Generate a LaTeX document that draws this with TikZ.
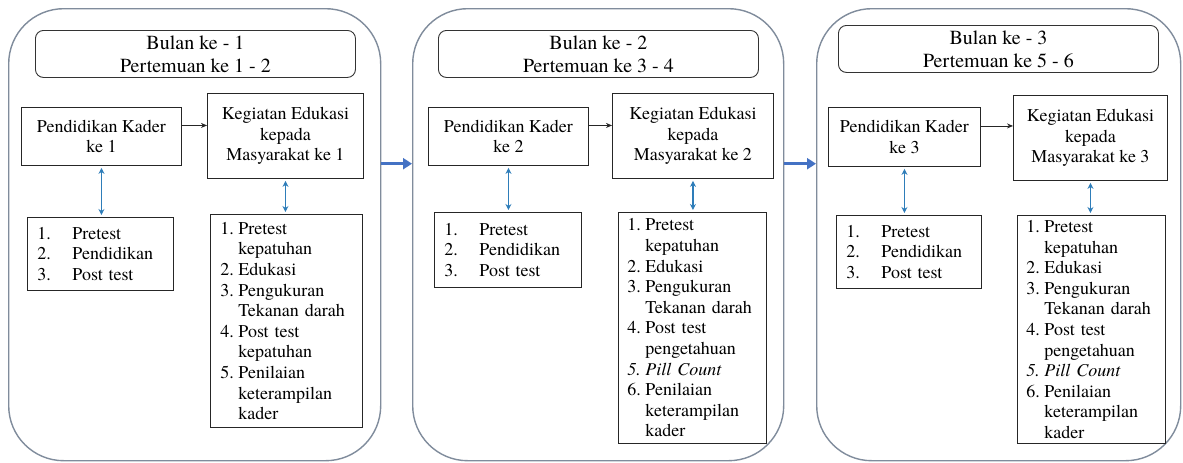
\documentclass[tikz,border=0pt]{standalone}
\usepackage{fontspec}
\setmainfont{texgyretermes}[Extension=.otf, UprightFont=*-regular, ItalicFont=*-italic, BoldFont=*-bold, BoldItalicFont=*-bolditalic]
\usetikzlibrary{arrows.meta}
\definecolor{panelgray}{RGB}{128,140,156}
\definecolor{bigblue}{RGB}{68,114,196}
\definecolor{smallblue}{RGB}{46,125,185}
\newcommand{\myitem}[2]{\makebox[18pt][l]{#1}#2}
\newcommand{\mycont}[1]{\hspace*{18pt}#1}
\newcommand{\myone}[2]{\makebox[35pt][l]{#1}#2}
\begin{document}
\begin{tikzpicture}[x=1pt,y=-1pt,
  panel/.style={draw=panelgray, line width=1.4pt, rounded corners=55pt, anchor=north west, inner sep=0pt},
  hdr/.style={draw=black!80, line width=0.9pt, rounded corners=8pt, anchor=north west, inner sep=0pt, align=center, font=\fontsize{20}{23}\selectfont},
  stepbox/.style={draw=black!85, line width=0.9pt, anchor=north west, inner sep=0pt, align=center, font=\fontsize{18}{20.6}\selectfont},
  lst/.style={stepbox, align=left, inner xsep=10pt, inner ysep=0pt},
  smallarrow/.style={draw=black!85, line width=0.8pt, -{Stealth[length=6pt,width=5pt]}},
  duo/.style={draw=smallblue, line width=1.3pt, {Stealth[length=6pt,width=6pt]}-{Stealth[length=6pt,width=6pt]}, shorten <=2pt, shorten >=2pt},
  bigarrow/.style={draw=bigblue, line width=3pt, -{Triangle[length=9pt,width=11pt]}}
]
\fill[white] (0,0) rectangle (1183,463);
\useasboundingbox (0,0) rectangle (1183,463);

% panels
\node[panel, minimum width=372pt, minimum height=452pt] (p1) at (8,8) {};
\node[panel, minimum width=371pt, minimum height=452pt] (p2) at (412,8) {};
\node[panel, minimum width=364pt, minimum height=452pt] (p3) at (816,8) {};

% headers
\node[hdr, minimum width=320pt, minimum height=47pt] (h1) at (35,30) {Bulan ke - 1\\Pertemuan ke 1 - 2};
\node[hdr, minimum width=320pt, minimum height=47pt] (h2) at (438,30) {Bulan ke - 2\\Pertemuan ke 3 - 4};
\node[hdr, minimum width=320pt, minimum height=47pt] (h3) at (838,25) {Bulan ke - 3\\Pertemuan ke 5 - 6};

% pendidikan kader
\node[stepbox, minimum width=160pt, minimum height=58pt] (pk1) at (21,107) {Pendidikan Kader\\ke 1};
\node[stepbox, minimum width=160pt, minimum height=58pt] (pk2) at (428,107) {Pendidikan Kader\\ke 2};
\node[stepbox, minimum width=152pt, minimum height=59pt] (pk3) at (828,107) {Pendidikan Kader\\ke 3};

% kegiatan edukasi
\node[stepbox, minimum width=156pt, minimum height=85pt] (kg1) at (207,93) {Kegiatan Edukasi\\kepada\\Masyarakat ke 1};
\node[stepbox, minimum width=161pt, minimum height=85pt] (kg2) at (612,93) {Kegiatan Edukasi\\kepada\\Masyarakat ke 2};
\node[stepbox, minimum width=154pt, minimum height=85pt] (kg3) at (1013,95) {Kegiatan Edukasi\\kepada\\Masyarakat ke 3};

% list 1
\node[lst, text width=126pt, minimum height=73pt] (la1) at (27,217) {\myone{1.}{Pretest}\\\myone{2.}{Pendidikan}\\\myone{3.}{Post test}};
\node[lst, text width=127pt, minimum height=75pt] (la2) at (434,212) {\myone{1.}{Pretest}\\\myone{2.}{Pendidikan}\\\myone{3.}{Post test}};
\node[lst, text width=125pt, minimum height=73pt] (la3) at (836,215) {\myone{1.}{Pretest}\\\myone{2.}{Pendidikan}\\\myone{3.}{Post test}};

% list 2
\node[lst, text width=132pt, minimum height=213pt] (lb1) at (210,214) {\myitem{1.}{Pretest}\\\mycont{kepatuhan}\\\myitem{2.}{Edukasi}\\\myitem{3.}{Pengukuran}\\\mycont{Tekanan darah}\\\myitem{4.}{Post test}\\\mycont{kepatuhan}\\\myitem{5.}{Penilaian}\\\mycont{keterampilan}\\\mycont{kader}};
\node[lst, text width=130pt, minimum height=231pt, inner xsep=9pt] (lb2) at (618,212) {\myitem{1.}{Pretest}\\\mycont{kepatuhan}\\\myitem{2.}{Edukasi}\\\myitem{3.}{Pengukuran}\\\mycont{Tekanan darah}\\\myitem{4.}{Post test}\\\mycont{pengetahuan}\\\myitem{\textit{5.}}{\textit{Pill Count}}\\\myitem{6.}{Penilaian}\\\mycont{keterampilan}\\\mycont{kader}};
\node[lst, text width=130pt, minimum height=228pt, inner xsep=9pt] (lb3) at (1017,215) {\myitem{1.}{Pretest}\\\mycont{kepatuhan}\\\myitem{2.}{Edukasi}\\\myitem{3.}{Pengukuran}\\\mycont{Tekanan darah}\\\myitem{4.}{Post test}\\\mycont{pengetahuan}\\\myitem{\textit{5.}}{\textit{Pill Count}}\\\myitem{6.}{Penilaian}\\\mycont{keterampilan}\\\mycont{kader}};

% small black arrows and blue double arrows
\foreach \i in {1,2,3}{
  \coordinate (s\i) at ([yshift=11pt]pk\i.east);
  \draw[smallarrow] (s\i) -- (s\i -| kg\i.west);
  \draw[duo] (pk\i.south) -- (pk\i.south |- la\i.north);
  \draw[duo] (kg\i.south) -- (kg\i.south |- lb\i.north);
}

% big arrows between panels
\coordinate (m1) at ([yshift=71pt]p1.east);
\coordinate (m2) at ([yshift=71pt]p2.east);
\draw[bigarrow] (m1) -- (m1 -| p2.west);
\draw[bigarrow] (m2) -- (m2 -| p3.west);
\end{tikzpicture}
\end{document}
